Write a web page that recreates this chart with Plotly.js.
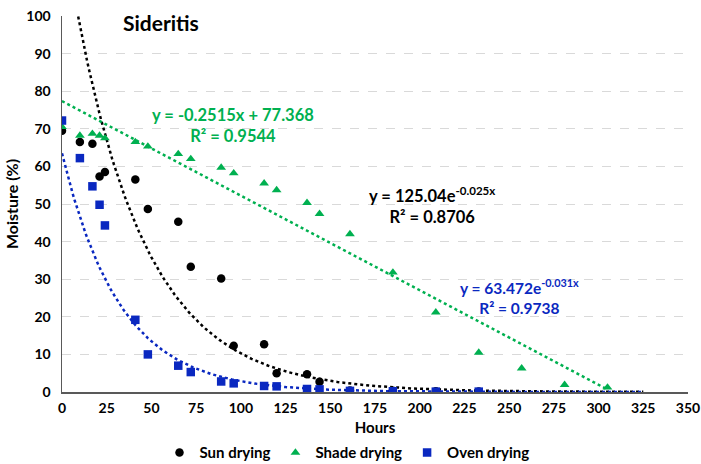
<!DOCTYPE html>
<html><head><meta charset="utf-8">
<script src="https://cdn.plot.ly/plotly-3.0.1.min.js"></script>
<style>html,body{margin:0;padding:0;background:#fff}</style>
</head><body>
<div id="chart" style="width:701px;height:464px"></div>
<script>
const hours = [0,10,17,21,24,41,48,65,72,89,96,113,120,137,144,161,185,209,233,257,281,305];
const sunHours = [0,10,17,21,24,41,48,65,72,89,96,113,120,137,144,161,185,209,233];
const sunMoisture = [69.5,66.5,66,57.3,58.5,56.5,48.7,45.3,33.3,30.2,12.3,12.7,5,4.7,2.7,0.4,0.3,0.2,0.1];
const shadeMoisture = [70.5,68.2,68.7,68.2,67.5,66.5,65.3,63.3,62,59.7,58.2,55.5,53.7,50.3,47.4,42,31.8,21.2,10.5,6.3,1.9,1.2];
const ovenHours = [0,10,17,21,24,41,48,65,72,89,96,113,120,137,144,161,185,209,233];
const ovenMoisture = [72.2,62.2,54.7,49.8,44.3,19.2,10,7,5.3,2.8,2.3,1.6,1.5,0.8,0.7,0.3,0.2,0.1,0.1];
// trendline coefficients as printed on the chart
const sunFit = {a:125.04, b:-0.025, r2:0.8706};
const shadeFit = {m:-0.2515, c:77.368, r2:0.9544};
const ovenFit = {a:63.472, b:-0.031, r2:0.9738};
const trendEnd = 325;

const BLACK='#000000', GREEN='#00B050', BLUE='#0A28C0';
const expX=[], sunY=[], ovenY=[];
for(let x=0;x<=trendEnd;x+=1){expX.push(x);sunY.push(sunFit.a*Math.exp(sunFit.b*x));ovenY.push(ovenFit.a*Math.exp(ovenFit.b*x));}
const linX=[0,hours[hours.length-1]];
const linY=linX.map(x=>shadeFit.m*x+shadeFit.c);

const F='Lato, "Open Sans", sans-serif';
const data=[
 {x:expX,y:sunY,mode:'lines',line:{color:BLACK,width:2.5,dash:'dot'},showlegend:false,hoverinfo:'skip'},
 {x:linX,y:linY,mode:'lines',line:{color:GREEN,width:2.5,dash:'dot'},showlegend:false,hoverinfo:'skip'},
 {x:expX,y:ovenY,mode:'lines',line:{color:BLUE,width:2.5,dash:'dot'},showlegend:false,hoverinfo:'skip'},
 {x:sunHours,y:sunMoisture,mode:'markers',name:'Sun drying',marker:{symbol:'circle',size:8.5,color:BLACK}},
 {x:hours,y:shadeMoisture,mode:'markers',name:'Shade drying',marker:{symbol:'triangle-up',size:8.5,color:GREEN}},
 {x:ovenHours,y:ovenMoisture,mode:'markers',name:'Oven drying',marker:{symbol:'square',size:8.5,color:BLUE}}
];
const layout={
 width:701,height:464,
 margin:{l:62,r:13,t:16,b:72,autoexpand:false},
 paper_bgcolor:'#fff',plot_bgcolor:'#fff',
 font:{family:F,size:14,color:'#000'},
 showlegend:true,
 legend:{orientation:'h',x:0.495,xanchor:'center',xref:'container',yref:'container',y:0.024,yanchor:'middle',
   font:{family:F,size:15,color:'#000',weight:'bold'},itemwidth:20,tracegroupgap:0,itemsizing:'trace'},
 xaxis:{range:[0,350],tick0:0,dtick:25,showgrid:false,zeroline:false,showline:true,linecolor:'#595959',linewidth:1.5,
   ticks:'',tickfont:{family:F,size:14,color:'#000',weight:'bold'},ticklen:0,automargin:false,ticklabelstandoff:3,
   title:{text:'<b>Hours</b>',font:{family:F,size:15,color:'#000'},standoff:12},fixedrange:true},
 yaxis:{range:[0,100],tick0:0,dtick:10,showgrid:true,gridcolor:'#d9d9d9',griddash:'dash',gridwidth:1,zeroline:false,automargin:false,
   showline:true,linecolor:'#595959',linewidth:1.5,ticks:'',tickfont:{family:F,size:14,color:'#000',weight:'bold'},ticklabelstandoff:7,
   title:{text:'<b>Moisture (%)</b>',font:{family:F,size:16,color:'#000'},standoff:3},fixedrange:true},
 annotations:[
  {xref:'paper',yref:'paper',x:0.095,y:1.0,xanchor:'left',yanchor:'top',yshift:8,text:'<b>Sideritis</b>',showarrow:false,font:{family:F,size:21,color:'#000'}},
  {xref:'x',yref:'y',x:95.5,y:71,text:'<b>y = '+shadeFit.m+'x + '+shadeFit.c+'<br>R² = '+shadeFit.r2+'</b>',showarrow:false,align:'center',font:{family:F,size:16.5,color:GREEN}},
  {xref:'x',yref:'y',x:207,y:49.7,text:'<b>y = '+sunFit.a.toFixed(2)+'e<sup>'+sunFit.b+'x</sup><br>R² = '+sunFit.r2+'</b>',showarrow:false,align:'center',font:{family:F,size:16.5,color:BLACK}},
  {xref:'x',yref:'y',x:256,y:25.3,text:'<b>y = '+ovenFit.a+'e<sup>'+ovenFit.b+'x</sup><br>R² = '+ovenFit.r2+'</b>',showarrow:false,align:'center',font:{family:F,size:15.5,color:BLUE}}
 ]
};
Plotly.newPlot('chart',data,layout,{displayModeBar:false,staticPlot:true});
</script>
</body></html>
